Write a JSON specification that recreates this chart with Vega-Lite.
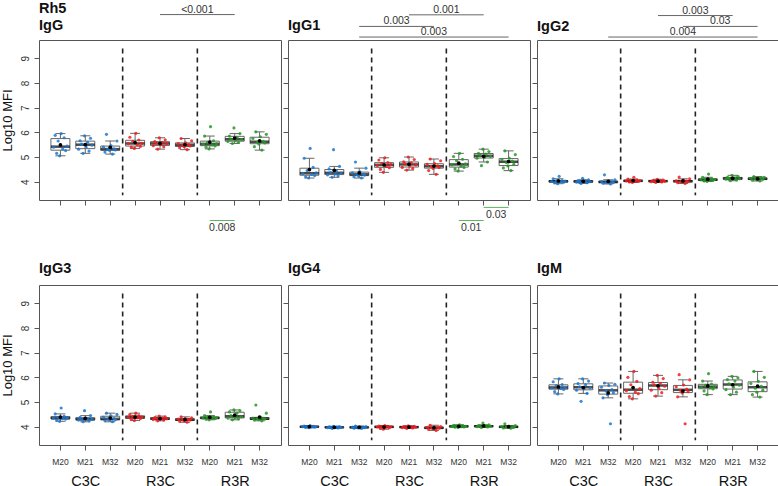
{
"$schema": "https://vega.github.io/schema/vega-lite/v6.json",
"padding": 0,
"background": "white",
"config": {
 "font": "Liberation Sans",
 "view": {"stroke": "#555", "strokeWidth": 1},
 "axis": {"grid": false, "domain": false, "tickColor": "#555", "tickSize": 5, "labelColor": "#333", "titleFontWeight": "normal"},
 "axisY": {"tickCount": 6, "labelAngle": 270, "labelAlign": "center", "labelBaseline": "alphabetic", "labelFontSize": 10, "labelPadding": 6, "titleFontSize": 13, "titlePadding": 6, "titleColor": "#111"},
 "title": {"anchor": "start", "frame": "group", "fontSize": 14.5, "fontWeight": "bold", "baseline": "alphabetic", "offset": 9, "lineHeight": 17, "color": "#111"}
},
"datasets": {
"IgG": [
{"g":"C3C M20","s":1,"v":5.40},{"g":"C3C M20","s":2,"v":5.88},{"g":"C3C M20","s":3,"v":5.15},{"g":"C3C M20","s":4,"v":5.65},{"g":"C3C M20","s":5,"v":5.05},{"g":"C3C M20","s":6,"v":5.95},{"g":"C3C M20","s":7,"v":5.33},{"g":"C3C M20","s":8,"v":5.78},{"g":"C3C M20","s":9,"v":5.26},{"g":"C3C M20","s":10,"v":5.44},
{"g":"C3C M21","s":1,"v":5.32},{"g":"C3C M21","s":2,"v":5.66},{"g":"C3C M21","s":3,"v":5.52},{"g":"C3C M21","s":4,"v":5.15},{"g":"C3C M21","s":5,"v":5.86},{"g":"C3C M21","s":6,"v":5.40},{"g":"C3C M21","s":7,"v":5.60},{"g":"C3C M21","s":8,"v":5.24},{"g":"C3C M21","s":9,"v":5.76},{"g":"C3C M21","s":10,"v":5.48},
{"g":"C3C M32","s":1,"v":5.40},{"g":"C3C M32","s":2,"v":5.20},{"g":"C3C M32","s":3,"v":5.92},{"g":"C3C M32","s":4,"v":5.31},{"g":"C3C M32","s":5,"v":5.27},{"g":"C3C M32","s":6,"v":5.46},{"g":"C3C M32","s":7,"v":5.12},{"g":"C3C M32","s":8,"v":5.33},{"g":"C3C M32","s":9,"v":5.29},{"g":"C3C M32","s":10,"v":5.65},
{"g":"R3C M20","s":1,"v":5.54},{"g":"R3C M20","s":2,"v":5.80},{"g":"R3C M20","s":3,"v":5.40},{"g":"R3C M20","s":4,"v":5.64},{"g":"R3C M20","s":5,"v":5.35},{"g":"R3C M20","s":6,"v":5.96},{"g":"R3C M20","s":7,"v":5.49},{"g":"R3C M20","s":8,"v":5.69},{"g":"R3C M20","s":9,"v":5.43},{"g":"R3C M20","s":10,"v":5.56},
{"g":"R3C M21","s":1,"v":5.46},{"g":"R3C M21","s":2,"v":5.63},{"g":"R3C M21","s":3,"v":5.56},{"g":"R3C M21","s":4,"v":5.32},{"g":"R3C M21","s":5,"v":5.78},{"g":"R3C M21","s":6,"v":5.50},{"g":"R3C M21","s":7,"v":5.60},{"g":"R3C M21","s":8,"v":5.42},{"g":"R3C M21","s":9,"v":5.70},{"g":"R3C M21","s":10,"v":5.54},
{"g":"R3C M32","s":1,"v":5.55},{"g":"R3C M32","s":2,"v":5.38},{"g":"R3C M32","s":3,"v":5.75},{"g":"R3C M32","s":4,"v":5.48},{"g":"R3C M32","s":5,"v":5.42},{"g":"R3C M32","s":6,"v":5.58},{"g":"R3C M32","s":7,"v":5.30},{"g":"R3C M32","s":8,"v":5.50},{"g":"R3C M32","s":9,"v":5.45},{"g":"R3C M32","s":10,"v":5.66},
{"g":"R3R M20","s":1,"v":5.52},{"g":"R3R M20","s":2,"v":5.85},{"g":"R3R M20","s":3,"v":5.40},{"g":"R3R M20","s":4,"v":5.60},{"g":"R3R M20","s":5,"v":5.33},{"g":"R3R M20","s":6,"v":6.23},{"g":"R3R M20","s":7,"v":5.49},{"g":"R3R M20","s":8,"v":5.66},{"g":"R3R M20","s":9,"v":5.45},{"g":"R3R M20","s":10,"v":5.54},
{"g":"R3R M21","s":1,"v":5.63},{"g":"R3R M21","s":2,"v":5.85},{"g":"R3R M21","s":3,"v":5.73},{"g":"R3R M21","s":4,"v":5.55},{"g":"R3R M21","s":5,"v":6.18},{"g":"R3R M21","s":6,"v":5.68},{"g":"R3R M21","s":7,"v":5.80},{"g":"R3R M21","s":8,"v":5.60},{"g":"R3R M21","s":9,"v":5.95},{"g":"R3R M21","s":10,"v":5.71},
{"g":"R3R M32","s":1,"v":5.75},{"g":"R3R M32","s":2,"v":5.42},{"g":"R3R M32","s":3,"v":6.02},{"g":"R3R M32","s":4,"v":5.60},{"g":"R3R M32","s":5,"v":5.53},{"g":"R3R M32","s":6,"v":5.82},{"g":"R3R M32","s":7,"v":5.28},{"g":"R3R M32","s":8,"v":5.64},{"g":"R3R M32","s":9,"v":5.57},{"g":"R3R M32","s":10,"v":5.92}
],
"IgG1": [
{"g":"C3C M20","s":1,"v":4.33},{"g":"C3C M20","s":2,"v":4.95},{"g":"C3C M20","s":3,"v":4.20},{"g":"C3C M20","s":4,"v":4.45},{"g":"C3C M20","s":5,"v":4.15},{"g":"C3C M20","s":6,"v":5.35},{"g":"C3C M20","s":7,"v":4.30},{"g":"C3C M20","s":8,"v":4.58},{"g":"C3C M20","s":9,"v":4.25},{"g":"C3C M20","s":10,"v":4.36},
{"g":"C3C M21","s":1,"v":4.28},{"g":"C3C M21","s":2,"v":4.52},{"g":"C3C M21","s":3,"v":4.37},{"g":"C3C M21","s":4,"v":4.18},{"g":"C3C M21","s":5,"v":5.30},{"g":"C3C M21","s":6,"v":4.32},{"g":"C3C M21","s":7,"v":4.42},{"g":"C3C M21","s":8,"v":4.24},{"g":"C3C M21","s":9,"v":4.62},{"g":"C3C M21","s":10,"v":4.35},
{"g":"C3C M32","s":1,"v":4.36},{"g":"C3C M32","s":2,"v":4.20},{"g":"C3C M32","s":3,"v":4.80},{"g":"C3C M32","s":4,"v":4.29},{"g":"C3C M32","s":5,"v":4.24},{"g":"C3C M32","s":6,"v":4.40},{"g":"C3C M32","s":7,"v":4.15},{"g":"C3C M32","s":8,"v":4.31},{"g":"C3C M32","s":9,"v":4.27},{"g":"C3C M32","s":10,"v":4.55},
{"g":"R3C M20","s":1,"v":4.66},{"g":"R3C M20","s":2,"v":4.88},{"g":"R3C M20","s":3,"v":4.50},{"g":"R3C M20","s":4,"v":4.75},{"g":"R3C M20","s":5,"v":4.38},{"g":"R3C M20","s":6,"v":4.97},{"g":"R3C M20","s":7,"v":4.62},{"g":"R3C M20","s":8,"v":4.78},{"g":"R3C M20","s":9,"v":4.57},{"g":"R3C M20","s":10,"v":4.70},
{"g":"R3C M21","s":1,"v":4.58},{"g":"R3C M21","s":2,"v":4.81},{"g":"R3C M21","s":3,"v":4.72},{"g":"R3C M21","s":4,"v":4.47},{"g":"R3C M21","s":5,"v":5.00},{"g":"R3C M21","s":6,"v":4.64},{"g":"R3C M21","s":7,"v":4.77},{"g":"R3C M21","s":8,"v":4.54},{"g":"R3C M21","s":9,"v":4.90},{"g":"R3C M21","s":10,"v":4.68},
{"g":"R3C M32","s":1,"v":4.70},{"g":"R3C M32","s":2,"v":4.45},{"g":"R3C M32","s":3,"v":4.92},{"g":"R3C M32","s":4,"v":4.62},{"g":"R3C M32","s":5,"v":4.54},{"g":"R3C M32","s":6,"v":4.74},{"g":"R3C M32","s":7,"v":4.30},{"g":"R3C M32","s":8,"v":4.64},{"g":"R3C M32","s":9,"v":4.58},{"g":"R3C M32","s":10,"v":4.85},
{"g":"R3R M20","s":1,"v":4.68},{"g":"R3R M20","s":2,"v":5.02},{"g":"R3R M20","s":3,"v":4.52},{"g":"R3R M20","s":4,"v":4.85},{"g":"R3R M20","s":5,"v":4.43},{"g":"R3R M20","s":6,"v":5.15},{"g":"R3R M20","s":7,"v":4.63},{"g":"R3R M20","s":8,"v":4.91},{"g":"R3R M20","s":9,"v":4.58},{"g":"R3R M20","s":10,"v":4.72},
{"g":"R3R M21","s":1,"v":4.95},{"g":"R3R M21","s":2,"v":5.15},{"g":"R3R M21","s":3,"v":5.07},{"g":"R3R M21","s":4,"v":4.65},{"g":"R3R M21","s":5,"v":5.32},{"g":"R3R M21","s":6,"v":4.99},{"g":"R3R M21","s":7,"v":5.12},{"g":"R3R M21","s":8,"v":4.80},{"g":"R3R M21","s":9,"v":5.22},{"g":"R3R M21","s":10,"v":5.03},
{"g":"R3R M32","s":1,"v":4.90},{"g":"R3R M32","s":2,"v":4.56},{"g":"R3R M32","s":3,"v":5.25},{"g":"R3R M32","s":4,"v":4.78},{"g":"R3R M32","s":5,"v":4.64},{"g":"R3R M32","s":6,"v":4.95},{"g":"R3R M32","s":7,"v":4.45},{"g":"R3R M32","s":8,"v":4.84},{"g":"R3R M32","s":9,"v":4.70},{"g":"R3R M32","s":10,"v":5.10}
],
"IgG2": [
{"g":"C3C M20","s":1,"v":4.01},{"g":"C3C M20","s":2,"v":4.12},{"g":"C3C M20","s":3,"v":3.96},{"g":"C3C M20","s":4,"v":4.04},{"g":"C3C M20","s":5,"v":3.92},{"g":"C3C M20","s":6,"v":4.22},{"g":"C3C M20","s":7,"v":4.00},{"g":"C3C M20","s":8,"v":4.05},{"g":"C3C M20","s":9,"v":3.98},{"g":"C3C M20","s":10,"v":4.03},
{"g":"C3C M21","s":1,"v":3.98},{"g":"C3C M21","s":2,"v":4.05},{"g":"C3C M21","s":3,"v":4.02},{"g":"C3C M21","s":4,"v":3.93},{"g":"C3C M21","s":5,"v":4.14},{"g":"C3C M21","s":6,"v":3.99},{"g":"C3C M21","s":7,"v":4.03},{"g":"C3C M21","s":8,"v":3.96},{"g":"C3C M21","s":9,"v":4.08},{"g":"C3C M21","s":10,"v":4.00},
{"g":"C3C M32","s":1,"v":4.01},{"g":"C3C M32","s":2,"v":3.94},{"g":"C3C M32","s":3,"v":4.28},{"g":"C3C M32","s":4,"v":3.98},{"g":"C3C M32","s":5,"v":3.96},{"g":"C3C M32","s":6,"v":4.03},{"g":"C3C M32","s":7,"v":3.91},{"g":"C3C M32","s":8,"v":4.00},{"g":"C3C M32","s":9,"v":3.97},{"g":"C3C M32","s":10,"v":4.08},
{"g":"R3C M20","s":1,"v":4.03},{"g":"R3C M20","s":2,"v":4.11},{"g":"R3C M20","s":3,"v":3.99},{"g":"R3C M20","s":4,"v":4.05},{"g":"R3C M20","s":5,"v":3.97},{"g":"R3C M20","s":6,"v":4.18},{"g":"R3C M20","s":7,"v":4.02},{"g":"R3C M20","s":8,"v":4.07},{"g":"R3C M20","s":9,"v":4.01},{"g":"R3C M20","s":10,"v":4.04},
{"g":"R3C M21","s":1,"v":4.00},{"g":"R3C M21","s":2,"v":4.05},{"g":"R3C M21","s":3,"v":4.03},{"g":"R3C M21","s":4,"v":3.97},{"g":"R3C M21","s":5,"v":4.10},{"g":"R3C M21","s":6,"v":4.01},{"g":"R3C M21","s":7,"v":4.04},{"g":"R3C M21","s":8,"v":3.99},{"g":"R3C M21","s":9,"v":4.07},{"g":"R3C M21","s":10,"v":4.02},
{"g":"R3C M32","s":1,"v":4.04},{"g":"R3C M32","s":2,"v":3.96},{"g":"R3C M32","s":3,"v":4.19},{"g":"R3C M32","s":4,"v":4.01},{"g":"R3C M32","s":5,"v":3.99},{"g":"R3C M32","s":6,"v":4.06},{"g":"R3C M32","s":7,"v":3.93},{"g":"R3C M32","s":8,"v":4.03},{"g":"R3C M32","s":9,"v":4.00},{"g":"R3C M32","s":10,"v":4.12},
{"g":"R3R M20","s":1,"v":4.07},{"g":"R3R M20","s":2,"v":4.18},{"g":"R3R M20","s":3,"v":4.03},{"g":"R3R M20","s":4,"v":4.10},{"g":"R3R M20","s":5,"v":4.01},{"g":"R3R M20","s":6,"v":4.31},{"g":"R3R M20","s":7,"v":4.06},{"g":"R3R M20","s":8,"v":4.12},{"g":"R3R M20","s":9,"v":4.05},{"g":"R3R M20","s":10,"v":4.09},
{"g":"R3R M21","s":1,"v":4.10},{"g":"R3R M21","s":2,"v":4.18},{"g":"R3R M21","s":3,"v":4.14},{"g":"R3R M21","s":4,"v":4.04},{"g":"R3R M21","s":5,"v":4.26},{"g":"R3R M21","s":6,"v":4.11},{"g":"R3R M21","s":7,"v":4.16},{"g":"R3R M21","s":8,"v":4.07},{"g":"R3R M21","s":9,"v":4.22},{"g":"R3R M21","s":10,"v":4.12},
{"g":"R3R M32","s":1,"v":4.14},{"g":"R3R M32","s":2,"v":4.06},{"g":"R3R M32","s":3,"v":4.21},{"g":"R3R M32","s":4,"v":4.11},{"g":"R3R M32","s":5,"v":4.08},{"g":"R3R M32","s":6,"v":4.16},{"g":"R3R M32","s":7,"v":4.03},{"g":"R3R M32","s":8,"v":4.13},{"g":"R3R M32","s":9,"v":4.10},{"g":"R3R M32","s":10,"v":4.18}
],
"IgG3": [
{"g":"C3C M20","s":1,"v":4.34},{"g":"C3C M20","s":2,"v":4.52},{"g":"C3C M20","s":3,"v":4.27},{"g":"C3C M20","s":4,"v":4.38},{"g":"C3C M20","s":5,"v":4.22},{"g":"C3C M20","s":6,"v":4.76},{"g":"C3C M20","s":7,"v":4.33},{"g":"C3C M20","s":8,"v":4.42},{"g":"C3C M20","s":9,"v":4.31},{"g":"C3C M20","s":10,"v":4.36},
{"g":"C3C M21","s":1,"v":4.27},{"g":"C3C M21","s":2,"v":4.38},{"g":"C3C M21","s":3,"v":4.31},{"g":"C3C M21","s":4,"v":4.20},{"g":"C3C M21","s":5,"v":4.65},{"g":"C3C M21","s":6,"v":4.29},{"g":"C3C M21","s":7,"v":4.33},{"g":"C3C M21","s":8,"v":4.24},{"g":"C3C M21","s":9,"v":4.45},{"g":"C3C M21","s":10,"v":4.30},
{"g":"C3C M32","s":1,"v":4.38},{"g":"C3C M32","s":2,"v":4.24},{"g":"C3C M32","s":3,"v":4.55},{"g":"C3C M32","s":4,"v":4.31},{"g":"C3C M32","s":5,"v":4.27},{"g":"C3C M32","s":6,"v":4.44},{"g":"C3C M32","s":7,"v":4.20},{"g":"C3C M32","s":8,"v":4.33},{"g":"C3C M32","s":9,"v":4.29},{"g":"C3C M32","s":10,"v":4.50},
{"g":"R3C M20","s":1,"v":4.38},{"g":"R3C M20","s":2,"v":4.50},{"g":"R3C M20","s":3,"v":4.30},{"g":"R3C M20","s":4,"v":4.42},{"g":"R3C M20","s":5,"v":4.25},{"g":"R3C M20","s":6,"v":4.55},{"g":"R3C M20","s":7,"v":4.36},{"g":"R3C M20","s":8,"v":4.45},{"g":"R3C M20","s":9,"v":4.33},{"g":"R3C M20","s":10,"v":4.39},
{"g":"R3C M21","s":1,"v":4.29},{"g":"R3C M21","s":2,"v":4.37},{"g":"R3C M21","s":3,"v":4.33},{"g":"R3C M21","s":4,"v":4.24},{"g":"R3C M21","s":5,"v":4.43},{"g":"R3C M21","s":6,"v":4.31},{"g":"R3C M21","s":7,"v":4.35},{"g":"R3C M21","s":8,"v":4.27},{"g":"R3C M21","s":9,"v":4.40},{"g":"R3C M21","s":10,"v":4.32},
{"g":"R3C M32","s":1,"v":4.31},{"g":"R3C M32","s":2,"v":4.22},{"g":"R3C M32","s":3,"v":4.40},{"g":"R3C M32","s":4,"v":4.28},{"g":"R3C M32","s":5,"v":4.25},{"g":"R3C M32","s":6,"v":4.33},{"g":"R3C M32","s":7,"v":4.18},{"g":"R3C M32","s":8,"v":4.29},{"g":"R3C M32","s":9,"v":4.27},{"g":"R3C M32","s":10,"v":4.36},
{"g":"R3R M20","s":1,"v":4.35},{"g":"R3R M20","s":2,"v":4.45},{"g":"R3R M20","s":3,"v":4.31},{"g":"R3R M20","s":4,"v":4.38},{"g":"R3R M20","s":5,"v":4.28},{"g":"R3R M20","s":6,"v":4.60},{"g":"R3R M20","s":7,"v":4.34},{"g":"R3R M20","s":8,"v":4.40},{"g":"R3R M20","s":9,"v":4.33},{"g":"R3R M20","s":10,"v":4.36},
{"g":"R3R M21","s":1,"v":4.35},{"g":"R3R M21","s":2,"v":4.60},{"g":"R3R M21","s":3,"v":4.45},{"g":"R3R M21","s":4,"v":4.28},{"g":"R3R M21","s":5,"v":4.68},{"g":"R3R M21","s":6,"v":4.38},{"g":"R3R M21","s":7,"v":4.55},{"g":"R3R M21","s":8,"v":4.32},{"g":"R3R M21","s":9,"v":4.65},{"g":"R3R M21","s":10,"v":4.40},
{"g":"R3R M32","s":1,"v":4.35},{"g":"R3R M32","s":2,"v":4.27},{"g":"R3R M32","s":3,"v":4.88},{"g":"R3R M32","s":4,"v":4.32},{"g":"R3R M32","s":5,"v":4.29},{"g":"R3R M32","s":6,"v":4.38},{"g":"R3R M32","s":7,"v":4.24},{"g":"R3R M32","s":8,"v":4.33},{"g":"R3R M32","s":9,"v":4.31},{"g":"R3R M32","s":10,"v":4.55}
],
"IgG4": [
{"g":"C3C M20","s":1,"v":4.00},{"g":"C3C M20","s":2,"v":4.03},{"g":"C3C M20","s":3,"v":3.97},{"g":"C3C M20","s":4,"v":4.01},{"g":"C3C M20","s":5,"v":3.96},{"g":"C3C M20","s":6,"v":4.05},{"g":"C3C M20","s":7,"v":3.99},{"g":"C3C M20","s":8,"v":4.02},{"g":"C3C M20","s":9,"v":3.98},{"g":"C3C M20","s":10,"v":4.00},
{"g":"C3C M21","s":1,"v":3.96},{"g":"C3C M21","s":2,"v":4.00},{"g":"C3C M21","s":3,"v":3.98},{"g":"C3C M21","s":4,"v":3.93},{"g":"C3C M21","s":5,"v":4.02},{"g":"C3C M21","s":6,"v":3.97},{"g":"C3C M21","s":7,"v":3.99},{"g":"C3C M21","s":8,"v":3.95},{"g":"C3C M21","s":9,"v":4.01},{"g":"C3C M21","s":10,"v":3.97},
{"g":"C3C M32","s":1,"v":3.99},{"g":"C3C M32","s":2,"v":3.94},{"g":"C3C M32","s":3,"v":4.03},{"g":"C3C M32","s":4,"v":3.97},{"g":"C3C M32","s":5,"v":3.95},{"g":"C3C M32","s":6,"v":4.00},{"g":"C3C M32","s":7,"v":3.93},{"g":"C3C M32","s":8,"v":3.98},{"g":"C3C M32","s":9,"v":3.96},{"g":"C3C M32","s":10,"v":4.01},
{"g":"R3C M20","s":1,"v":3.99},{"g":"R3C M20","s":2,"v":4.03},{"g":"R3C M20","s":3,"v":3.94},{"g":"R3C M20","s":4,"v":4.01},{"g":"R3C M20","s":5,"v":3.90},{"g":"R3C M20","s":6,"v":4.05},{"g":"R3C M20","s":7,"v":3.98},{"g":"R3C M20","s":8,"v":4.02},{"g":"R3C M20","s":9,"v":3.96},{"g":"R3C M20","s":10,"v":4.00},
{"g":"R3C M21","s":1,"v":3.96},{"g":"R3C M21","s":2,"v":4.01},{"g":"R3C M21","s":3,"v":3.99},{"g":"R3C M21","s":4,"v":3.93},{"g":"R3C M21","s":5,"v":4.04},{"g":"R3C M21","s":6,"v":3.97},{"g":"R3C M21","s":7,"v":4.00},{"g":"R3C M21","s":8,"v":3.95},{"g":"R3C M21","s":9,"v":4.02},{"g":"R3C M21","s":10,"v":3.98},
{"g":"R3C M32","s":1,"v":3.98},{"g":"R3C M32","s":2,"v":3.89},{"g":"R3C M32","s":3,"v":4.06},{"g":"R3C M32","s":4,"v":3.95},{"g":"R3C M32","s":5,"v":3.92},{"g":"R3C M32","s":6,"v":3.99},{"g":"R3C M32","s":7,"v":3.85},{"g":"R3C M32","s":8,"v":3.96},{"g":"R3C M32","s":9,"v":3.94},{"g":"R3C M32","s":10,"v":4.01},
{"g":"R3R M20","s":1,"v":4.01},{"g":"R3R M20","s":2,"v":4.06},{"g":"R3R M20","s":3,"v":3.98},{"g":"R3R M20","s":4,"v":4.03},{"g":"R3R M20","s":5,"v":3.97},{"g":"R3R M20","s":6,"v":4.08},{"g":"R3R M20","s":7,"v":4.00},{"g":"R3R M20","s":8,"v":4.04},{"g":"R3R M20","s":9,"v":3.99},{"g":"R3R M20","s":10,"v":4.02},
{"g":"R3R M21","s":1,"v":4.00},{"g":"R3R M21","s":2,"v":4.05},{"g":"R3R M21","s":3,"v":4.02},{"g":"R3R M21","s":4,"v":3.97},{"g":"R3R M21","s":5,"v":4.15},{"g":"R3R M21","s":6,"v":4.01},{"g":"R3R M21","s":7,"v":4.03},{"g":"R3R M21","s":8,"v":3.99},{"g":"R3R M21","s":9,"v":4.08},{"g":"R3R M21","s":10,"v":4.02},
{"g":"R3R M32","s":1,"v":4.01},{"g":"R3R M32","s":2,"v":3.95},{"g":"R3R M32","s":3,"v":4.12},{"g":"R3R M32","s":4,"v":3.99},{"g":"R3R M32","s":5,"v":3.97},{"g":"R3R M32","s":6,"v":4.02},{"g":"R3R M32","s":7,"v":3.94},{"g":"R3R M32","s":8,"v":4.00},{"g":"R3R M32","s":9,"v":3.98},{"g":"R3R M32","s":10,"v":4.05}
],
"IgM": [
{"g":"C3C M20","s":1,"v":5.58},{"g":"C3C M20","s":2,"v":5.82},{"g":"C3C M20","s":3,"v":5.42},{"g":"C3C M20","s":4,"v":5.66},{"g":"C3C M20","s":5,"v":5.33},{"g":"C3C M20","s":6,"v":5.94},{"g":"C3C M20","s":7,"v":5.55},{"g":"C3C M20","s":8,"v":5.71},{"g":"C3C M20","s":9,"v":5.51},{"g":"C3C M20","s":10,"v":5.60},
{"g":"C3C M21","s":1,"v":5.48},{"g":"C3C M21","s":2,"v":5.75},{"g":"C3C M21","s":3,"v":5.62},{"g":"C3C M21","s":4,"v":5.03},{"g":"C3C M21","s":5,"v":5.94},{"g":"C3C M21","s":6,"v":5.54},{"g":"C3C M21","s":7,"v":5.70},{"g":"C3C M21","s":8,"v":5.35},{"g":"C3C M21","s":9,"v":5.85},{"g":"C3C M21","s":10,"v":5.58},
{"g":"C3C M32","s":1,"v":5.60},{"g":"C3C M32","s":2,"v":5.17},{"g":"C3C M32","s":3,"v":5.77},{"g":"C3C M32","s":4,"v":5.45},{"g":"C3C M32","s":5,"v":5.30},{"g":"C3C M32","s":6,"v":5.67},{"g":"C3C M32","s":7,"v":4.12},{"g":"C3C M32","s":8,"v":5.50},{"g":"C3C M32","s":9,"v":5.38},{"g":"C3C M32","s":10,"v":5.72},
{"g":"R3C M20","s":1,"v":5.46},{"g":"R3C M20","s":2,"v":6.00},{"g":"R3C M20","s":3,"v":5.22},{"g":"R3C M20","s":4,"v":5.70},{"g":"R3C M20","s":5,"v":5.13},{"g":"R3C M20","s":6,"v":6.24},{"g":"R3C M20","s":7,"v":5.40},{"g":"R3C M20","s":8,"v":5.84},{"g":"R3C M20","s":9,"v":5.34},{"g":"R3C M20","s":10,"v":5.54},
{"g":"R3C M21","s":1,"v":5.48},{"g":"R3C M21","s":2,"v":5.80},{"g":"R3C M21","s":3,"v":5.70},{"g":"R3C M21","s":4,"v":5.24},{"g":"R3C M21","s":5,"v":6.08},{"g":"R3C M21","s":6,"v":5.56},{"g":"R3C M21","s":7,"v":5.76},{"g":"R3C M21","s":8,"v":5.38},{"g":"R3C M21","s":9,"v":5.95},{"g":"R3C M21","s":10,"v":5.64},
{"g":"R3C M32","s":1,"v":5.62},{"g":"R3C M32","s":2,"v":5.21},{"g":"R3C M32","s":3,"v":6.11},{"g":"R3C M32","s":4,"v":5.47},{"g":"R3C M32","s":5,"v":5.37},{"g":"R3C M32","s":6,"v":5.69},{"g":"R3C M32","s":7,"v":4.12},{"g":"R3C M32","s":8,"v":5.52},{"g":"R3C M32","s":9,"v":5.42},{"g":"R3C M32","s":10,"v":5.90},
{"g":"R3R M20","s":1,"v":5.60},{"g":"R3R M20","s":2,"v":5.85},{"g":"R3R M20","s":3,"v":5.45},{"g":"R3R M20","s":4,"v":5.68},{"g":"R3R M20","s":5,"v":5.30},{"g":"R3R M20","s":6,"v":6.15},{"g":"R3R M20","s":7,"v":5.57},{"g":"R3R M20","s":8,"v":5.73},{"g":"R3R M20","s":9,"v":5.53},{"g":"R3R M20","s":10,"v":5.64},
{"g":"R3R M21","s":1,"v":5.50},{"g":"R3R M21","s":2,"v":5.91},{"g":"R3R M21","s":3,"v":5.74},{"g":"R3R M21","s":4,"v":5.30},{"g":"R3R M21","s":5,"v":6.04},{"g":"R3R M21","s":6,"v":5.60},{"g":"R3R M21","s":7,"v":5.85},{"g":"R3R M21","s":8,"v":5.40},{"g":"R3R M21","s":9,"v":5.98},{"g":"R3R M21","s":10,"v":5.68},
{"g":"R3R M32","s":1,"v":5.75},{"g":"R3R M32","s":2,"v":5.30},{"g":"R3R M32","s":3,"v":6.24},{"g":"R3R M32","s":4,"v":5.56},{"g":"R3R M32","s":5,"v":5.40},{"g":"R3R M32","s":6,"v":5.84},{"g":"R3R M32","s":7,"v":5.20},{"g":"R3R M32","s":8,"v":5.64},{"g":"R3R M32","s":9,"v":5.48},{"g":"R3R M32","s":10,"v":6.00}
]
},
"columns": 3,
"spacing": {"row": 85, "column": 7},
"bounds": "flush",
"concat": [
{
 "title": {"text": ["Rh5", "IgG"], "offset": -29},
 "width": 242, "height": 160,
 "layer": [
  {"data": {"name": "IgG"},
   "encoding": {"x": {"field": "g", "type": "nominal", "scale": {"domain": ["C3C M20","C3C M21","C3C M32","R3C M20","R3C M21","R3C M32","R3R M20","R3R M21","R3R M32"], "paddingInner": 0.4, "paddingOuter": 0.56}, "axis": {"title": null, "labels": false, "bandPosition": 0.5, "orient": "bottom"}}},
   "layer": [
    {"mark": {"type": "boxplot", "extent": 1.5, "size": 19, "outliers": false, "box": {"color": "white", "fillOpacity": 0.5, "stroke": "#666", "strokeWidth": 1}, "median": {"color": "black", "thickness": 2.5}, "rule": {"color": "#666"}, "ticks": {"color": "#666", "size": 10}},
     "encoding": {"y": {"field": "v", "type": "quantitative", "scale": {"domain": [3.26, 9.74], "nice": false, "zero": false}, "axis": {"title": "Log10 MFI"}}}},
    {"mark": {"type": "circle", "size": 10, "opacity": 0.85},
     "encoding": {"xOffset": {"field": "s", "type": "nominal"}, "y": {"field": "v", "type": "quantitative", "axis": {"title": "Log10 MFI"}}, "color": {"field": "g", "type": "nominal", "scale": {"domain": ["C3C M20","C3C M21","C3C M32","R3C M20","R3C M21","R3C M32","R3R M20","R3R M21","R3R M32"], "range": ["#1C78D0","#1C78D0","#1C78D0","#F41C1C","#F41C1C","#F41C1C","#259925","#259925","#259925"]}, "legend": null}}},
    {"mark": {"type": "point", "filled": true, "size": 14, "color": "black", "opacity": 1},
     "encoding": {"y": {"aggregate": "mean", "field": "v", "type": "quantitative", "axis": {"title": "Log10 MFI"}}}}
   ]},
  {"data": {"values": [{"d": 3.5}, {"d": 6.5}]},
   "mark": {"type": "rule", "strokeDash": [5, 4], "strokeWidth": 1.6, "color": "#222"},
   "encoding": {"x": {"field": "d", "type": "quantitative", "scale": {"domain": [0.14, 9.86], "nice": false, "zero": false}, "axis": null}, "y": {"datum": 9.4, "type": "quantitative", "axis": {"title": "Log10 MFI"}}, "y2": {"datum": 3.45}}},
  {"data": {"values": [{"a": 5, "b": 8, "m": 6.5, "lv": 10.77, "p": "<0.001"}]},
   "layer": [
    {"mark": {"type": "rule", "color": "#666", "strokeWidth": 1},
     "encoding": {"x": {"field": "a", "type": "quantitative", "scale": {"domain": [0.14, 9.86], "nice": false, "zero": false}, "axis": null}, "x2": {"field": "b"}, "y": {"field": "lv", "type": "quantitative", "axis": {"title": "Log10 MFI"}}}},
    {"mark": {"type": "text", "fontSize": 10.5, "color": "#333", "baseline": "alphabetic", "dy": -2},
     "encoding": {"x": {"field": "m", "type": "quantitative", "scale": {"domain": [0.14, 9.86], "nice": false, "zero": false}, "axis": null}, "y": {"field": "lv", "type": "quantitative", "axis": {"title": "Log10 MFI"}}, "text": {"field": "p"}}}
   ]},
  {"data": {"values": [{"a": 7, "b": 8, "m": 7.5, "lv": 2.43, "p": "0.008"}]},
   "layer": [
    {"mark": {"type": "rule", "color": "#5CB85C", "strokeWidth": 1},
     "encoding": {"x": {"field": "a", "type": "quantitative", "scale": {"domain": [0.14, 9.86], "nice": false, "zero": false}, "axis": null}, "x2": {"field": "b"}, "y": {"field": "lv", "type": "quantitative", "axis": {"title": "Log10 MFI"}}}},
    {"mark": {"type": "text", "fontSize": 10.5, "color": "#333", "baseline": "top", "dy": 3},
     "encoding": {"x": {"field": "m", "type": "quantitative", "scale": {"domain": [0.14, 9.86], "nice": false, "zero": false}, "axis": null}, "y": {"field": "lv", "type": "quantitative", "axis": {"title": "Log10 MFI"}}, "text": {"field": "p"}}}
   ]}
 ],
 "resolve": {"scale": {"x": "independent"}, "axis": {"x": "independent"}}
},
{
 "title": {"text": "IgG1", "offset": -29},
 "width": 242, "height": 160,
 "layer": [
  {"data": {"name": "IgG1"},
   "encoding": {"x": {"field": "g", "type": "nominal", "scale": {"domain": ["C3C M20","C3C M21","C3C M32","R3C M20","R3C M21","R3C M32","R3R M20","R3R M21","R3R M32"], "paddingInner": 0.4, "paddingOuter": 0.56}, "axis": {"title": null, "labels": false, "bandPosition": 0.5, "orient": "bottom"}}},
   "layer": [
    {"mark": {"type": "boxplot", "extent": 1.5, "size": 19, "outliers": false, "box": {"color": "white", "fillOpacity": 0.5, "stroke": "#666", "strokeWidth": 1}, "median": {"color": "black", "thickness": 2.5}, "rule": {"color": "#666"}, "ticks": {"color": "#666", "size": 10}},
     "encoding": {"y": {"field": "v", "type": "quantitative", "scale": {"domain": [3.26, 9.74], "nice": false, "zero": false}, "axis": {"labels": false, "title": null}}}},
    {"mark": {"type": "circle", "size": 10, "opacity": 0.85},
     "encoding": {"xOffset": {"field": "s", "type": "nominal"}, "y": {"field": "v", "type": "quantitative", "axis": {"labels": false, "title": null}}, "color": {"field": "g", "type": "nominal", "scale": {"domain": ["C3C M20","C3C M21","C3C M32","R3C M20","R3C M21","R3C M32","R3R M20","R3R M21","R3R M32"], "range": ["#1C78D0","#1C78D0","#1C78D0","#F41C1C","#F41C1C","#F41C1C","#259925","#259925","#259925"]}, "legend": null}}},
    {"mark": {"type": "point", "filled": true, "size": 14, "color": "black", "opacity": 1},
     "encoding": {"y": {"aggregate": "mean", "field": "v", "type": "quantitative", "axis": {"labels": false, "title": null}}}}
   ]},
  {"data": {"values": [{"d": 3.5}, {"d": 6.5}]},
   "mark": {"type": "rule", "strokeDash": [5, 4], "strokeWidth": 1.6, "color": "#222"},
   "encoding": {"x": {"field": "d", "type": "quantitative", "scale": {"domain": [0.14, 9.86], "nice": false, "zero": false}, "axis": null}, "y": {"datum": 9.4, "type": "quantitative", "axis": {"labels": false, "title": null}}, "y2": {"datum": 3.45}}},
  {"data": {"values": [{"a": 5, "b": 8, "m": 6.5, "lv": 10.76, "p": "0.001"}, {"a": 3, "b": 6, "m": 4.5, "lv": 10.29, "p": "0.003"}, {"a": 3, "b": 9, "m": 6, "lv": 9.86, "p": "0.003"}]},
   "layer": [
    {"mark": {"type": "rule", "color": "#666", "strokeWidth": 1},
     "encoding": {"x": {"field": "a", "type": "quantitative", "scale": {"domain": [0.14, 9.86], "nice": false, "zero": false}, "axis": null}, "x2": {"field": "b"}, "y": {"field": "lv", "type": "quantitative", "axis": {"labels": false, "title": null}}}},
    {"mark": {"type": "text", "fontSize": 10.5, "color": "#333", "baseline": "alphabetic", "dy": -2},
     "encoding": {"x": {"field": "m", "type": "quantitative", "scale": {"domain": [0.14, 9.86], "nice": false, "zero": false}, "axis": null}, "y": {"field": "lv", "type": "quantitative", "axis": {"labels": false, "title": null}}, "text": {"field": "p"}}}
   ]},
  {"data": {"values": [{"a": 7, "b": 8, "m": 7.5, "lv": 2.43, "p": "0.01"}, {"a": 8, "b": 9, "m": 8.5, "lv": 2.96, "p": "0.03"}]},
   "layer": [
    {"mark": {"type": "rule", "color": "#5CB85C", "strokeWidth": 1},
     "encoding": {"x": {"field": "a", "type": "quantitative", "scale": {"domain": [0.14, 9.86], "nice": false, "zero": false}, "axis": null}, "x2": {"field": "b"}, "y": {"field": "lv", "type": "quantitative", "axis": {"labels": false, "title": null}}}},
    {"mark": {"type": "text", "fontSize": 10.5, "color": "#333", "baseline": "top", "dy": 3},
     "encoding": {"x": {"field": "m", "type": "quantitative", "scale": {"domain": [0.14, 9.86], "nice": false, "zero": false}, "axis": null}, "y": {"field": "lv", "type": "quantitative", "axis": {"labels": false, "title": null}}, "text": {"field": "p"}}}
   ]}
 ],
 "resolve": {"scale": {"x": "independent"}, "axis": {"x": "independent"}}
},
{
 "title": {"text": "IgG2", "offset": -29},
 "width": 242, "height": 160,
 "layer": [
  {"data": {"name": "IgG2"},
   "encoding": {"x": {"field": "g", "type": "nominal", "scale": {"domain": ["C3C M20","C3C M21","C3C M32","R3C M20","R3C M21","R3C M32","R3R M20","R3R M21","R3R M32"], "paddingInner": 0.4, "paddingOuter": 0.56}, "axis": {"title": null, "labels": false, "bandPosition": 0.5, "orient": "bottom"}}},
   "layer": [
    {"mark": {"type": "boxplot", "extent": 1.5, "size": 19, "outliers": false, "box": {"color": "white", "fillOpacity": 0.5, "stroke": "#666", "strokeWidth": 1}, "median": {"color": "black", "thickness": 2.5}, "rule": {"color": "#666"}, "ticks": {"color": "#666", "size": 10}},
     "encoding": {"y": {"field": "v", "type": "quantitative", "scale": {"domain": [3.26, 9.74], "nice": false, "zero": false}, "axis": {"labels": false, "title": null}}}},
    {"mark": {"type": "circle", "size": 10, "opacity": 0.85},
     "encoding": {"xOffset": {"field": "s", "type": "nominal"}, "y": {"field": "v", "type": "quantitative", "axis": {"labels": false, "title": null}}, "color": {"field": "g", "type": "nominal", "scale": {"domain": ["C3C M20","C3C M21","C3C M32","R3C M20","R3C M21","R3C M32","R3R M20","R3R M21","R3R M32"], "range": ["#1C78D0","#1C78D0","#1C78D0","#F41C1C","#F41C1C","#F41C1C","#259925","#259925","#259925"]}, "legend": null}}},
    {"mark": {"type": "point", "filled": true, "size": 14, "color": "black", "opacity": 1},
     "encoding": {"y": {"aggregate": "mean", "field": "v", "type": "quantitative", "axis": {"labels": false, "title": null}}}}
   ]},
  {"data": {"values": [{"d": 3.5}, {"d": 6.5}]},
   "mark": {"type": "rule", "strokeDash": [5, 4], "strokeWidth": 1.6, "color": "#222"},
   "encoding": {"x": {"field": "d", "type": "quantitative", "scale": {"domain": [0.14, 9.86], "nice": false, "zero": false}, "axis": null}, "y": {"datum": 9.4, "type": "quantitative", "axis": {"labels": false, "title": null}}, "y2": {"datum": 3.45}}},
  {"data": {"values": [{"a": 5, "b": 8, "m": 6.5, "lv": 10.73, "p": "0.003"}, {"a": 6, "b": 9, "m": 7.5, "lv": 10.29, "p": "0.03"}, {"a": 3, "b": 9, "m": 6, "lv": 9.86, "p": "0.004"}]},
   "layer": [
    {"mark": {"type": "rule", "color": "#666", "strokeWidth": 1},
     "encoding": {"x": {"field": "a", "type": "quantitative", "scale": {"domain": [0.14, 9.86], "nice": false, "zero": false}, "axis": null}, "x2": {"field": "b"}, "y": {"field": "lv", "type": "quantitative", "axis": {"labels": false, "title": null}}}},
    {"mark": {"type": "text", "fontSize": 10.5, "color": "#333", "baseline": "alphabetic", "dy": -2},
     "encoding": {"x": {"field": "m", "type": "quantitative", "scale": {"domain": [0.14, 9.86], "nice": false, "zero": false}, "axis": null}, "y": {"field": "lv", "type": "quantitative", "axis": {"labels": false, "title": null}}, "text": {"field": "p"}}}
   ]}
 ],
 "resolve": {"scale": {"x": "independent"}, "axis": {"x": "independent"}}
},
{
 "title": {"text": "IgG3"},
 "width": 242, "height": 160,
 "layer": [
  {"data": {"name": "IgG3"},
   "encoding": {"x": {"field": "g", "type": "nominal", "scale": {"domain": ["C3C M20","C3C M21","C3C M32","R3C M20","R3C M21","R3C M32","R3R M20","R3R M21","R3R M32"], "paddingInner": 0.4, "paddingOuter": 0.56}, "axis": {"title": null, "labelExpr": "split(datum.value, ' ')[1]", "labelFontSize": 8.5, "labelPadding": 7, "labelAngle": 0, "bandPosition": 0.5, "orient": "bottom"}}},
   "layer": [
    {"mark": {"type": "boxplot", "extent": 1.5, "size": 19, "outliers": false, "box": {"color": "white", "fillOpacity": 0.5, "stroke": "#666", "strokeWidth": 1}, "median": {"color": "black", "thickness": 2.5}, "rule": {"color": "#666"}, "ticks": {"color": "#666", "size": 10}},
     "encoding": {"y": {"field": "v", "type": "quantitative", "scale": {"domain": [3.26, 9.74], "nice": false, "zero": false}, "axis": {"title": "Log10 MFI"}}}},
    {"mark": {"type": "circle", "size": 10, "opacity": 0.85},
     "encoding": {"xOffset": {"field": "s", "type": "nominal"}, "y": {"field": "v", "type": "quantitative", "axis": {"title": "Log10 MFI"}}, "color": {"field": "g", "type": "nominal", "scale": {"domain": ["C3C M20","C3C M21","C3C M32","R3C M20","R3C M21","R3C M32","R3R M20","R3R M21","R3R M32"], "range": ["#1C78D0","#1C78D0","#1C78D0","#F41C1C","#F41C1C","#F41C1C","#259925","#259925","#259925"]}, "legend": null}}},
    {"mark": {"type": "point", "filled": true, "size": 14, "color": "black", "opacity": 1},
     "encoding": {"y": {"aggregate": "mean", "field": "v", "type": "quantitative", "axis": {"title": "Log10 MFI"}}}}
   ]},
  {"data": {"values": [{"d": 3.5}, {"d": 6.5}]},
   "mark": {"type": "rule", "strokeDash": [5, 4], "strokeWidth": 1.6, "color": "#222"},
   "encoding": {"x": {"field": "d", "type": "quantitative", "scale": {"domain": [0.14, 9.86], "nice": false, "zero": false}, "axis": {"values": [2, 5, 8], "labelExpr": "datum.value == 2 ? 'C3C' : datum.value == 5 ? 'R3C' : 'R3R'", "orient": "bottom", "ticks": false, "tickSize": 0, "labelFontSize": 14.5, "labelPadding": 29, "labelColor": "#111", "title": null, "labelFlush": false, "labelOverlap": false}}, "y": {"datum": 9.4, "type": "quantitative", "axis": {"title": "Log10 MFI"}}, "y2": {"datum": 3.45}}}
 ],
 "resolve": {"scale": {"x": "independent"}, "axis": {"x": "independent"}}
},
{
 "title": {"text": "IgG4"},
 "width": 242, "height": 160,
 "layer": [
  {"data": {"name": "IgG4"},
   "encoding": {"x": {"field": "g", "type": "nominal", "scale": {"domain": ["C3C M20","C3C M21","C3C M32","R3C M20","R3C M21","R3C M32","R3R M20","R3R M21","R3R M32"], "paddingInner": 0.4, "paddingOuter": 0.56}, "axis": {"title": null, "labelExpr": "split(datum.value, ' ')[1]", "labelFontSize": 8.5, "labelPadding": 7, "labelAngle": 0, "bandPosition": 0.5, "orient": "bottom"}}},
   "layer": [
    {"mark": {"type": "boxplot", "extent": 1.5, "size": 19, "outliers": false, "box": {"color": "white", "fillOpacity": 0.5, "stroke": "#666", "strokeWidth": 1}, "median": {"color": "black", "thickness": 2.5}, "rule": {"color": "#666"}, "ticks": {"color": "#666", "size": 10}},
     "encoding": {"y": {"field": "v", "type": "quantitative", "scale": {"domain": [3.26, 9.74], "nice": false, "zero": false}, "axis": {"labels": false, "title": null}}}},
    {"mark": {"type": "circle", "size": 10, "opacity": 0.85},
     "encoding": {"xOffset": {"field": "s", "type": "nominal"}, "y": {"field": "v", "type": "quantitative", "axis": {"labels": false, "title": null}}, "color": {"field": "g", "type": "nominal", "scale": {"domain": ["C3C M20","C3C M21","C3C M32","R3C M20","R3C M21","R3C M32","R3R M20","R3R M21","R3R M32"], "range": ["#1C78D0","#1C78D0","#1C78D0","#F41C1C","#F41C1C","#F41C1C","#259925","#259925","#259925"]}, "legend": null}}},
    {"mark": {"type": "point", "filled": true, "size": 14, "color": "black", "opacity": 1},
     "encoding": {"y": {"aggregate": "mean", "field": "v", "type": "quantitative", "axis": {"labels": false, "title": null}}}}
   ]},
  {"data": {"values": [{"d": 3.5}, {"d": 6.5}]},
   "mark": {"type": "rule", "strokeDash": [5, 4], "strokeWidth": 1.6, "color": "#222"},
   "encoding": {"x": {"field": "d", "type": "quantitative", "scale": {"domain": [0.14, 9.86], "nice": false, "zero": false}, "axis": {"values": [2, 5, 8], "labelExpr": "datum.value == 2 ? 'C3C' : datum.value == 5 ? 'R3C' : 'R3R'", "orient": "bottom", "ticks": false, "tickSize": 0, "labelFontSize": 14.5, "labelPadding": 29, "labelColor": "#111", "title": null, "labelFlush": false, "labelOverlap": false}}, "y": {"datum": 9.4, "type": "quantitative", "axis": {"labels": false, "title": null}}, "y2": {"datum": 3.45}}}
 ],
 "resolve": {"scale": {"x": "independent"}, "axis": {"x": "independent"}}
},
{
 "title": {"text": "IgM"},
 "width": 242, "height": 160,
 "layer": [
  {"data": {"name": "IgM"},
   "encoding": {"x": {"field": "g", "type": "nominal", "scale": {"domain": ["C3C M20","C3C M21","C3C M32","R3C M20","R3C M21","R3C M32","R3R M20","R3R M21","R3R M32"], "paddingInner": 0.4, "paddingOuter": 0.56}, "axis": {"title": null, "labelExpr": "split(datum.value, ' ')[1]", "labelFontSize": 8.5, "labelPadding": 7, "labelAngle": 0, "bandPosition": 0.5, "orient": "bottom"}}},
   "layer": [
    {"mark": {"type": "boxplot", "extent": 1.5, "size": 19, "outliers": false, "box": {"color": "white", "fillOpacity": 0.5, "stroke": "#666", "strokeWidth": 1}, "median": {"color": "black", "thickness": 2.5}, "rule": {"color": "#666"}, "ticks": {"color": "#666", "size": 10}},
     "encoding": {"y": {"field": "v", "type": "quantitative", "scale": {"domain": [3.26, 9.74], "nice": false, "zero": false}, "axis": {"labels": false, "title": null}}}},
    {"mark": {"type": "circle", "size": 10, "opacity": 0.85},
     "encoding": {"xOffset": {"field": "s", "type": "nominal"}, "y": {"field": "v", "type": "quantitative", "axis": {"labels": false, "title": null}}, "color": {"field": "g", "type": "nominal", "scale": {"domain": ["C3C M20","C3C M21","C3C M32","R3C M20","R3C M21","R3C M32","R3R M20","R3R M21","R3R M32"], "range": ["#1C78D0","#1C78D0","#1C78D0","#F41C1C","#F41C1C","#F41C1C","#259925","#259925","#259925"]}, "legend": null}}},
    {"mark": {"type": "point", "filled": true, "size": 14, "color": "black", "opacity": 1},
     "encoding": {"y": {"aggregate": "mean", "field": "v", "type": "quantitative", "axis": {"labels": false, "title": null}}}}
   ]},
  {"data": {"values": [{"d": 3.5}, {"d": 6.5}]},
   "mark": {"type": "rule", "strokeDash": [5, 4], "strokeWidth": 1.6, "color": "#222"},
   "encoding": {"x": {"field": "d", "type": "quantitative", "scale": {"domain": [0.14, 9.86], "nice": false, "zero": false}, "axis": {"values": [2, 5, 8], "labelExpr": "datum.value == 2 ? 'C3C' : datum.value == 5 ? 'R3C' : 'R3R'", "orient": "bottom", "ticks": false, "tickSize": 0, "labelFontSize": 14.5, "labelPadding": 29, "labelColor": "#111", "title": null, "labelFlush": false, "labelOverlap": false}}, "y": {"datum": 9.4, "type": "quantitative", "axis": {"labels": false, "title": null}}, "y2": {"datum": 3.45}}}
 ],
 "resolve": {"scale": {"x": "independent"}, "axis": {"x": "independent"}}
}
]
}
